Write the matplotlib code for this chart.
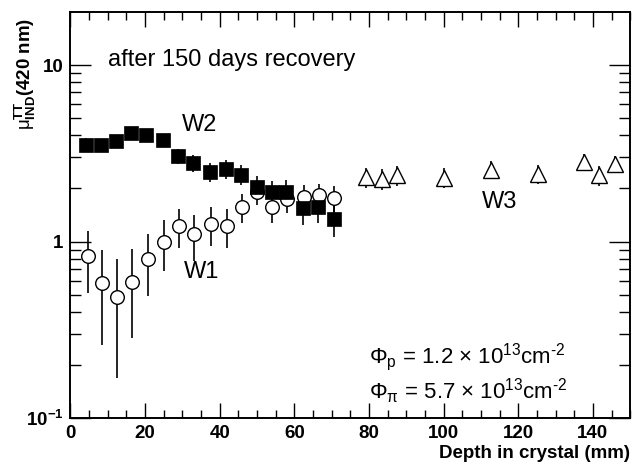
import numpy as np
import matplotlib
matplotlib.use('Agg')
import matplotlib.pyplot as plt
from matplotlib.ticker import FixedLocator, FuncFormatter, MultipleLocator

plt.rcParams['font.family'] = ['Liberation Sans', 'DejaVu Sans']
plt.rcParams['mathtext.fontset'] = 'custom'
plt.rcParams['mathtext.rm'] = 'Liberation Sans'
plt.rcParams['mathtext.it'] = 'Liberation Sans:italic'
plt.rcParams['mathtext.bf'] = 'Liberation Sans:bold'

# W2 (filled squares)
w2_depth = [4.2, 8.2, 12.2, 16.2, 20.3, 24.7, 28.9, 32.8, 37.3, 41.6, 45.8, 49.9, 53.9, 57.9, 62.3, 66.4, 70.6]
w2_mu = [3.54, 3.51, 3.71, 4.15, 4.04, 3.78, 3.05, 2.79, 2.48, 2.59, 2.40, 2.04, 1.91, 1.92, 1.55, 1.58, 1.35]
w2_err = [0.3, 0.3, 0.3, 0.3, 0.3, 0.3, 0.3, 0.3, 0.3, 0.32, 0.3, 0.3, 0.3, 0.31, 0.3, 0.3, 0.29]

# W1 (open circles)
w1_depth = [4.6, 8.5, 12.6, 16.6, 20.7, 25.0, 29.1, 33.2, 37.6, 42.0, 46.1, 50.0, 54.1, 58.1, 62.5, 66.6, 70.6]
w1_mu = [0.83, 0.58, 0.483, 0.593, 0.80, 1.0, 1.23, 1.10, 1.26, 1.23, 1.57, 1.91, 1.58, 1.75, 1.79, 1.83, 1.77]
w1_err = [0.32, 0.32, 0.315, 0.31, 0.31, 0.32, 0.31, 0.32, 0.31, 0.31, 0.3, 0.3, 0.31, 0.3, 0.3, 0.3, 0.3]

# W3 (open triangles)
w3_depth = [79.3, 83.5, 87.5, 100.1, 112.6, 125.2, 137.6, 141.7, 145.9]
w3_mu = [2.32, 2.27, 2.37, 2.30, 2.55, 2.43, 2.82, 2.37, 2.74]
w3_err = [0.3, 0.3, 0.3, 0.3, 0.3, 0.3, 0.3, 0.3, 0.3]

FONT_SIZE = 13.5

fig = plt.figure(figsize=(6.34, 4.62), dpi=100)
ax = fig.add_axes([0.111, 0.095, 0.883, 0.879])

err_kw = dict(fmt='none', ecolor='black', elinewidth=1.2, capsize=0, zorder=2)
ax.errorbar(w1_depth, w1_mu, yerr=w1_err, **err_kw)
ax.errorbar(w2_depth, w2_mu, yerr=w2_err, **err_kw)
ax.errorbar(w3_depth, w3_mu, yerr=w3_err, **err_kw)

ax.plot(w1_depth, w1_mu, 'o', ms=9.8, mfc='white', mec='black', mew=1.0, zorder=3)
ax.plot(w2_depth, w2_mu, 's', ms=10.3, mfc='black', mec='black', mew=0.5, zorder=4)
ax.plot(w3_depth, w3_mu, '^', ms=11.5, mfc='white', mec='black', mew=1.0, zorder=3)

ax.set_xlim(0, 150)
ax.set_yscale('log')
ax.set_ylim(0.1, 20)

ax.xaxis.set_major_locator(MultipleLocator(20))
ax.xaxis.set_minor_locator(MultipleLocator(5))
ax.yaxis.set_major_locator(FixedLocator([0.1, 1, 10]))
ax.yaxis.set_minor_locator(FixedLocator([k * d for d in (0.1, 1, 10) for k in range(2, 10) if k * d < 20]))


def ylabel_fmt(v, pos):
    if abs(v - 0.1) < 1e-9:
        return r'10$^{\mathbf{-1}}$'
    if abs(v - 1) < 1e-9:
        return '1'
    return '10'


ax.yaxis.set_major_formatter(FuncFormatter(ylabel_fmt))
ax.yaxis.set_minor_formatter(FuncFormatter(lambda v, p: ''))

ax.tick_params(which='both', direction='in', top=True, right=True, width=1.0)
ax.tick_params(axis='x', which='major', length=11, pad=5)
ax.tick_params(axis='x', which='minor', length=6)
ax.tick_params(axis='y', which='major', length=15, pad=5)
ax.tick_params(axis='y', which='minor', length=8)
for lab in ax.get_xticklabels() + ax.get_yticklabels():
    lab.set_fontsize(FONT_SIZE)
    lab.set_fontweight('bold')
for sp in ax.spines.values():
    sp.set_linewidth(1.4)

ax.set_xlabel('Depth in crystal (mm)', loc='right', fontsize=FONT_SIZE, fontweight='bold', labelpad=2)
ax.set_ylabel(r'$\mathrm{\mu}^{\bf TT}_{\bf IND}$(420 nm)', loc='top', fontsize=FONT_SIZE, fontweight='bold')
ax.yaxis.set_label_coords(-0.057, 0.985)

ax.text(0.068, 0.882, 'after 150 days recovery', transform=ax.transAxes, fontsize=17, va='center')
ax.text(0.2, 0.722, 'W2', transform=ax.transAxes, fontsize=17, va='center')
ax.text(0.202, 0.36, 'W1', transform=ax.transAxes, fontsize=17, va='center')
ax.text(0.735, 0.533, 'W3', transform=ax.transAxes, fontsize=17, va='center')
ax.text(0.533, 0.151, r'$\Phi_{\rm p}$ = 1.2 $\times$ 10$^{13}$cm$^{\text{-2}}$', transform=ax.transAxes, fontsize=16, va='center')
ax.text(0.533, 0.065, r'$\Phi_{\mathrm{\pi}}$ = 5.7 $\times$ 10$^{13}$cm$^{\text{-2}}$', transform=ax.transAxes, fontsize=16, va='center')

fig.savefig('out.png', dpi=100)
